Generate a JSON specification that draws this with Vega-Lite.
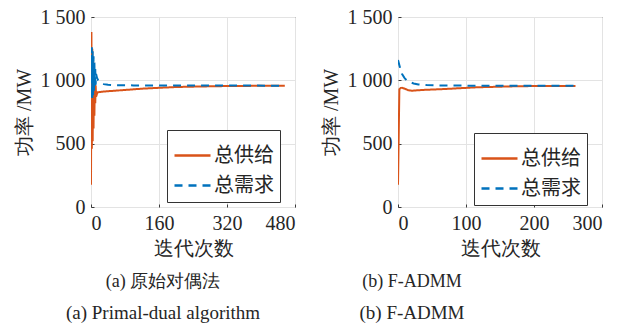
{
  "$schema": "https://vega.github.io/schema/vega-lite/v6.json",
  "background": "white",
  "padding": {"left": 13, "top": 6, "right": 5, "bottom": 5},
  "spacing": 24,
  "config": {
    "font": "Liberation Serif",
    "view": {"stroke": "#3a3a3a", "strokeWidth": 1},
    "axis": {
      "labelFont": "Liberation Serif",
      "titleFont": "Liberation Serif",
      "labelFontSize": 20,
      "titleFontSize": 20,
      "titleFontWeight": "normal",
      "labelColor": "#262626",
      "titleColor": "#262626",
      "gridColor": "#e3e3e3",
      "gridWidth": 1,
      "domain": false,
      "ticks": true,
      "tickSize": -3,
      "tickColor": "#3a3a3a",
      "labelPadding": 9
    },
    "legend": {
      "labelFont": "Noto Sans CJK SC",
      "labelFontSize": 20,
      "labelColor": "#262626",
      "fillColor": "white",
      "strokeColor": "#333333",
      "padding": 6,
      "symbolType": "stroke",
      "symbolSize": 1296,
      "symbolStrokeWidth": 2.5,
      "rowPadding": -6,
      "labelOffset": 2,
      "title": null
    },
    "title": {
      "font": "Liberation Serif",
      "subtitleFont": "Liberation Serif",
      "fontSize": 18,
      "subtitleFontSize": 19,
      "fontWeight": "normal",
      "color": "#262626",
      "subtitleColor": "#262626",
      "subtitlePadding": 13
    }
  },
  "datasets": {
    "left": [
      {"s": "总供给", "x": 0, "y": 176},
      {"s": "总供给", "x": 1, "y": 1382},
      {"s": "总供给", "x": 2, "y": 460},
      {"s": "总供给", "x": 3, "y": 1250},
      {"s": "总供给", "x": 4, "y": 520},
      {"s": "总供给", "x": 5, "y": 1150},
      {"s": "总供给", "x": 6, "y": 620},
      {"s": "总供给", "x": 7, "y": 1060},
      {"s": "总供给", "x": 8, "y": 720},
      {"s": "总供给", "x": 9, "y": 1000},
      {"s": "总供给", "x": 10, "y": 820},
      {"s": "总供给", "x": 11, "y": 960},
      {"s": "总供给", "x": 12, "y": 870},
      {"s": "总供给", "x": 15, "y": 905},
      {"s": "总供给", "x": 25, "y": 910},
      {"s": "总供给", "x": 40, "y": 914},
      {"s": "总供给", "x": 80, "y": 924},
      {"s": "总供给", "x": 120, "y": 934},
      {"s": "总供给", "x": 160, "y": 941},
      {"s": "总供给", "x": 200, "y": 947},
      {"s": "总供给", "x": 250, "y": 951},
      {"s": "总供给", "x": 300, "y": 954},
      {"s": "总供给", "x": 350, "y": 956},
      {"s": "总供给", "x": 456, "y": 957},
      {"s": "总需求", "x": 0, "y": 1150},
      {"s": "总需求", "x": 1, "y": 850},
      {"s": "总需求", "x": 2, "y": 1262},
      {"s": "总需求", "x": 3, "y": 860},
      {"s": "总需求", "x": 4, "y": 1230},
      {"s": "总需求", "x": 5, "y": 880},
      {"s": "总需求", "x": 6, "y": 1190},
      {"s": "总需求", "x": 7, "y": 910},
      {"s": "总需求", "x": 8, "y": 1140},
      {"s": "总需求", "x": 9, "y": 940},
      {"s": "总需求", "x": 10, "y": 1090},
      {"s": "总需求", "x": 11, "y": 965},
      {"s": "总需求", "x": 12, "y": 1050},
      {"s": "总需求", "x": 14, "y": 1020},
      {"s": "总需求", "x": 17, "y": 1000},
      {"s": "总需求", "x": 20, "y": 990},
      {"s": "总需求", "x": 25, "y": 978},
      {"s": "总需求", "x": 30, "y": 970},
      {"s": "总需求", "x": 40, "y": 965},
      {"s": "总需求", "x": 60, "y": 962},
      {"s": "总需求", "x": 100, "y": 960},
      {"s": "总需求", "x": 200, "y": 959},
      {"s": "总需求", "x": 456, "y": 958}
    ],
    "right": [
      {"s": "总供给", "x": 0, "y": 176},
      {"s": "总供给", "x": 2, "y": 930},
      {"s": "总供给", "x": 4, "y": 940},
      {"s": "总供给", "x": 6, "y": 941},
      {"s": "总供给", "x": 10, "y": 934},
      {"s": "总供给", "x": 15, "y": 922},
      {"s": "总供给", "x": 20, "y": 918},
      {"s": "总供给", "x": 28, "y": 921},
      {"s": "总供给", "x": 40, "y": 925},
      {"s": "总供给", "x": 67, "y": 931},
      {"s": "总供给", "x": 116, "y": 945},
      {"s": "总供给", "x": 165, "y": 952},
      {"s": "总供给", "x": 200, "y": 955},
      {"s": "总供给", "x": 261, "y": 956},
      {"s": "总需求", "x": 0, "y": 1160},
      {"s": "总需求", "x": 3, "y": 1100},
      {"s": "总需求", "x": 6, "y": 1050},
      {"s": "总需求", "x": 10, "y": 1015},
      {"s": "总需求", "x": 13, "y": 1000},
      {"s": "总需求", "x": 18, "y": 985},
      {"s": "总需求", "x": 23, "y": 975},
      {"s": "总需求", "x": 30, "y": 968},
      {"s": "总需求", "x": 42, "y": 963},
      {"s": "总需求", "x": 60, "y": 960},
      {"s": "总需求", "x": 100, "y": 958},
      {"s": "总需求", "x": 261, "y": 958}
    ]
  },
  "resolve": {"legend": {"color": "independent", "strokeDash": "independent"}},
  "hconcat": [
    {
      "width": 204,
      "height": 190,
      "data": {"name": "left"},
      "title": {"text": "(a) 原始对偶法", "subtitle": "(a) Primal-dual algorithm", "orient": "bottom", "anchor": "middle", "dx": -30, "offset": 15},
      "mark": {"type": "line", "strokeWidth": 2, "clip": true},
      "encoding": {
        "x": {"field": "x", "type": "quantitative", "scale": {"domain": [0, 480], "nice": false}, "axis": {"values": [0, 160, 320, 480], "title": "迭代次数", "titlePadding": 5}},
        "y": {"field": "y", "type": "quantitative", "scale": {"domain": [0, 1500], "nice": false}, "axis": {"values": [0, 500, 1000, 1500], "labelExpr": "replace(format(datum.value, ','), ',', ' ')", "title": "功率 /MW", "titlePadding": 6}},
        "color": {"field": "s", "type": "nominal", "scale": {"domain": ["总供给", "总需求"], "range": ["#D95319", "#0072BD"]}, "legend": {"orient": "none", "legendX": 76, "legendY": 113}},
        "strokeDash": {"field": "s", "type": "nominal", "scale": {"domain": ["总供给", "总需求"], "range": [[1, 0], [8, 6]]}, "legend": {"orient": "none", "legendX": 76, "legendY": 113}},
        "order": {"field": "x", "type": "quantitative"}
      }
    },
    {
      "width": 204,
      "height": 190,
      "data": {"name": "right"},
      "title": {"text": "(b) F-ADMM", "subtitle": "(b) F-ADMM", "orient": "bottom", "anchor": "middle", "dx": -88, "offset": 15},
      "mark": {"type": "line", "strokeWidth": 2, "clip": true},
      "encoding": {
        "x": {"field": "x", "type": "quantitative", "scale": {"domain": [0, 300], "nice": false}, "axis": {"values": [0, 100, 200, 300], "title": "迭代次数", "titlePadding": 5}},
        "y": {"field": "y", "type": "quantitative", "scale": {"domain": [0, 1500], "nice": false}, "axis": {"values": [0, 500, 1000, 1500], "labelExpr": "replace(format(datum.value, ','), ',', ' ')", "title": "功率 /MW", "titlePadding": 6}},
        "color": {"field": "s", "type": "nominal", "scale": {"domain": ["总供给", "总需求"], "range": ["#D95319", "#0072BD"]}, "legend": {"orient": "none", "legendX": 76, "legendY": 116}},
        "strokeDash": {"field": "s", "type": "nominal", "scale": {"domain": ["总供给", "总需求"], "range": [[1, 0], [8, 6]]}, "legend": {"orient": "none", "legendX": 76, "legendY": 116}},
        "order": {"field": "x", "type": "quantitative"}
      }
    }
  ]
}
